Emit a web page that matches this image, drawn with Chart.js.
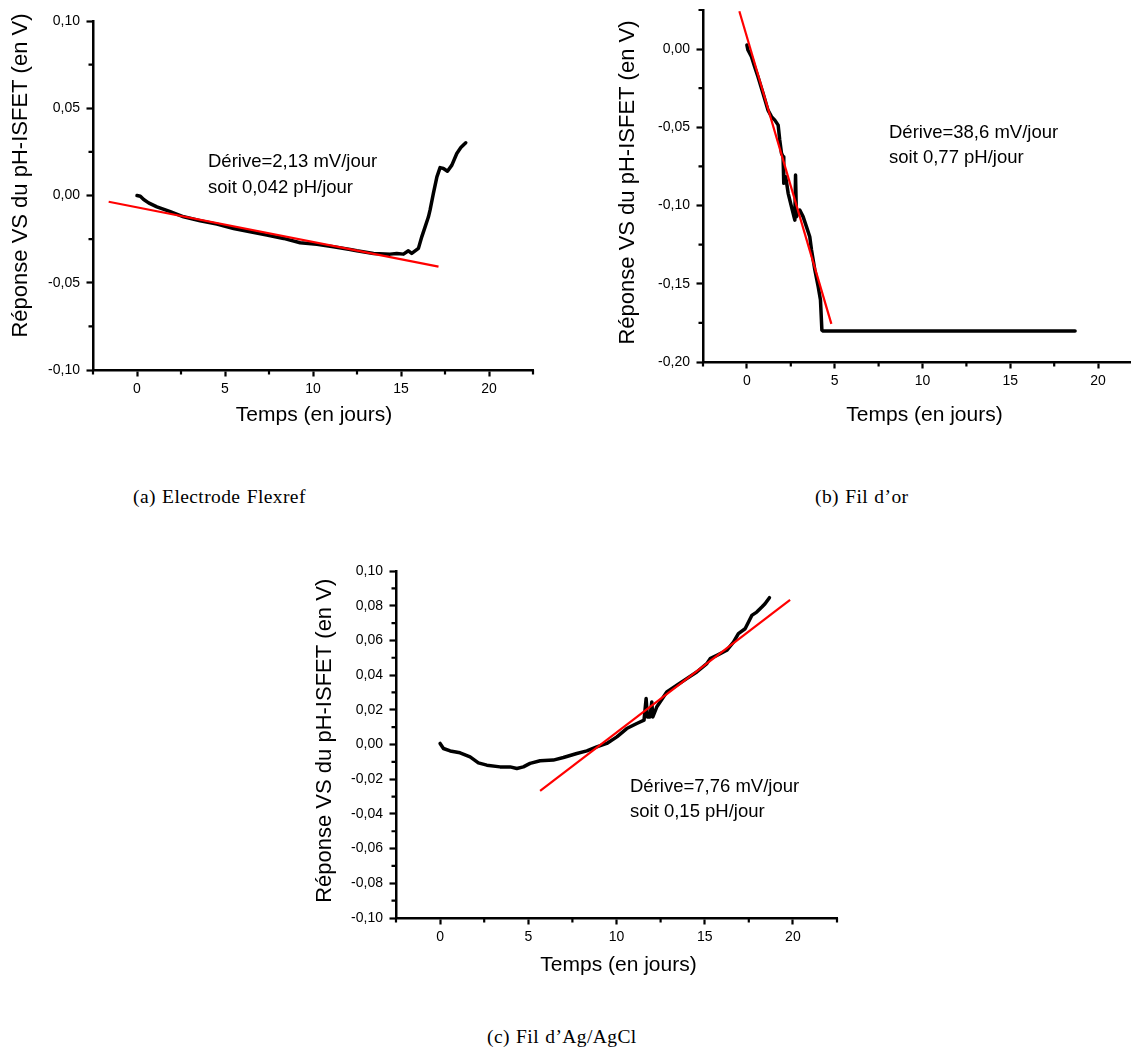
<!DOCTYPE html>
<html>
<head>
<meta charset="utf-8">
<script src="https://cdn.jsdelivr.net/npm/chart.js@4.4.1/dist/chart.umd.min.js"></script>
<style>
html,body{margin:0;padding:0;background:#fff;width:1131px;height:1057px;overflow:hidden;position:relative}
canvas{position:absolute}
.cap{position:absolute;font-family:"Liberation Serif","Times New Roman",serif;font-size:19.5px;line-height:1;white-space:nowrap;color:#000;letter-spacing:0.4px;word-spacing:1px}
</style>
</head>
<body>
<canvas id="chartA" width="545" height="440" style="left:0;top:0"></canvas>
<canvas id="chartB" width="600" height="440" style="left:560px;top:0"></canvas>
<canvas id="chartC" width="550" height="460" style="left:300px;top:540px"></canvas>
<div class="cap" style="left:133px;top:487px">(a) Electrode Flexref</div>
<div class="cap" style="left:815px;top:487px">(b) Fil d’or</div>
<div class="cap" style="left:487px;top:1027px">(c) Fil d’Ag/AgCl</div>
<script>
// ---------- shared axis values ----------
const xTicks = [0, 5, 10, 15, 20];
const xTickLabels = ['0', '5', '10', '15', '20'];
const xMinor = [-2.5, 2.5, 7.5, 12.5, 17.5, 22.5];

const xTitle = 'Temps (en jours)';
const yTitle = 'Réponse VS du pH-ISFET (en V)';

// ---------- (a) Electrode Flexref ----------
const daysA = [0, 0.19, 0.38, 0.66, 1.13, 1.89, 2.65, 3.59, 4.54, 5.49, 6.43, 7.38, 8.33, 9.27, 10.22, 11.16, 12.11, 12.49, 13.44, 14.38, 14.76, 15.14, 15.42, 15.61, 15.99, 16.18, 16.37, 16.56, 16.65, 16.84, 17.04, 17.22, 17.41, 17.64, 17.89, 18.17, 18.4, 18.68];
const responseA = [0, -0.0004, -0.0023, -0.0042, -0.0065, -0.0093, -0.0122, -0.0145, -0.0164, -0.0189, -0.0208, -0.0227, -0.0246, -0.0271, -0.028, -0.0294, -0.0309, -0.0317, -0.0332, -0.0336, -0.0332, -0.0336, -0.0317, -0.0332, -0.0303, -0.0237, -0.018, -0.0122, -0.0084, 0.0012, 0.0107, 0.016, 0.0155, 0.0139, 0.0174, 0.0241, 0.0275, 0.0302];
const fitDaysA = [-1.61, 17.13];
const fitA = [-0.0036, -0.0408];
const yTicksA = [-0.10, -0.05, 0.00, 0.05, 0.10];
const yTickLabelsA = ['-0,10', '-0,05', '0,00', '0,05', '0,10'];
const yMinorA = [-0.075, -0.025, 0.025, 0.075];
const notesA = ['Dérive=2,13 mV/jour', 'soit 0,042 pH/jour'];

// ---------- (b) Fil d'or ----------
const daysB = [0, 0.06, 0.26, 0.44, 0.63, 0.92, 1.2, 1.4, 1.59, 1.78, 1.87, 1.97, 2.06, 2.1, 2.21, 2.35, 2.54, 2.73, 2.77, 2.82, 3.01, 3.2, 3.39, 3.58, 3.68, 3.87, 4.06, 4.19, 4.27, 4.34, 18.69];
const responseB = [0.0026, -0.0006, -0.0049, -0.0113, -0.0177, -0.0283, -0.039, -0.0432, -0.0454, -0.0486, -0.0581, -0.0666, -0.0688, -0.0858, -0.0816, -0.0922, -0.1008, -0.1093, -0.0805, -0.1071, -0.1029, -0.1071, -0.1135, -0.1199, -0.1284, -0.1412, -0.1519, -0.1604, -0.1796, -0.1802, -0.1802];
const fitDaysB = [-0.43, 4.81];
const fitB = [0.0242, -0.1756];
const yTicksB = [-0.20, -0.15, -0.10, -0.05, 0.00];
const yTickLabelsB = ['-0,20', '-0,15', '-0,10', '-0,05', '0,00'];
const yMinorB = [-0.175, -0.125, -0.075, -0.025, 0.025];
const notesB = ['Dérive=38,6 mV/jour', 'soit 0,77 pH/jour'];

// ---------- (c) Fil d'Ag/AgCl ----------
const daysC = [0, 0.19, 0.57, 1.13, 1.7, 2.17, 2.65, 3.4, 3.97, 4.35, 4.72, 5.1, 5.67, 6.42, 6.99, 7.75, 8.32, 8.88, 9.45, 10.02, 10.58, 11.15, 11.56, 11.68, 11.75, 11.9, 12.0, 12.06, 12.28, 12.85, 13.42, 13.98, 14.55, 15.12, 15.31, 15.69, 16.25, 16.63, 16.91, 17.29, 17.67, 17.95, 18.24, 18.42, 18.67];
const responseC = [0.0006, -0.0023, -0.0037, -0.0048, -0.0071, -0.0106, -0.0119, -0.0129, -0.0129, -0.0138, -0.0129, -0.0109, -0.0094, -0.009, -0.0075, -0.0052, -0.0037, -0.0014, 0.0006, 0.0044, 0.0092, 0.0121, 0.014, 0.0265, 0.0159, 0.0159, 0.0245, 0.0159, 0.0216, 0.0303, 0.0341, 0.038, 0.0418, 0.0466, 0.0495, 0.0514, 0.0543, 0.059, 0.0639, 0.0667, 0.0744, 0.0763, 0.0792, 0.0811, 0.0846];
const fitDaysC = [5.67, 19.84];
const fitC = [-0.0267, 0.0834];
const yTicksC = [-0.10, -0.08, -0.06, -0.04, -0.02, 0.00, 0.02, 0.04, 0.06, 0.08, 0.10];
const yTickLabelsC = ['-0,10', '-0,08', '-0,06', '-0,04', '-0,02', '0,00', '0,02', '0,04', '0,06', '0,08', '0,10'];
const yMinorC = [-0.09, -0.07, -0.05, -0.03, -0.01, 0.01, 0.03, 0.05, 0.07, 0.09];
const notesC = ['Dérive=7,76 mV/jour', 'soit 0,15 pH/jour'];

Chart.defaults.font.family = '"Liberation Sans", Arial, sans-serif';
Chart.defaults.color = '#000';

const extras = {
  id: 'extras',
  afterDraw(chart, args, o) {
    const ctx = chart.ctx, xs = chart.scales.x, ys = chart.scales.y;
    ctx.save();
    ctx.strokeStyle = '#000';
    ctx.lineWidth = 2.2;
    ctx.beginPath();
    o.xMinor.forEach(v => { const p = xs.getPixelForValue(v); ctx.moveTo(p, xs.top); ctx.lineTo(p, xs.top + 4.5); });
    o.yMinor.forEach(v => { const p = ys.getPixelForValue(v); ctx.moveTo(ys.right, p); ctx.lineTo(ys.right - 4.5, p); });
    ctx.stroke();
    ctx.fillStyle = '#000';
    // x title
    ctx.font = '21px "Liberation Sans", Arial, sans-serif';
    ctx.textAlign = 'center';
    ctx.textBaseline = 'alphabetic';
    ctx.fillText(o.xTitle, o.xTitlePos[0], o.xTitlePos[1]);
    // y title
    ctx.save();
    ctx.translate(o.yTitlePos[0], o.yTitlePos[1]);
    ctx.rotate(-Math.PI / 2);
    ctx.font = '22px "Liberation Sans", Arial, sans-serif';
    ctx.textBaseline = 'middle';
    ctx.fillText(o.yTitle, 0, 0);
    ctx.restore();
    // annotation
    ctx.font = '18.5px "Liberation Sans", Arial, sans-serif';
    ctx.textAlign = 'left';
    ctx.textBaseline = 'alphabetic';
    o.notes.forEach((t, i) => ctx.fillText(t, o.notePos[0], o.notePos[1] + i * o.noteGap));
    ctx.restore();
  }
};

function makeChart(id, s) {
  const canvas = document.getElementById(id);
  const W = canvas.width, H = canvas.height, a = s.area;
  const pts = (xs, ys) => xs.map((x, i) => ({ x: x, y: ys[i] }));
  return new Chart(canvas, {
    type: 'line',
    data: {
      datasets: [
        { label: 'fit', data: pts(s.fitX, s.fitY), borderColor: '#ff0000', borderWidth: 2.2, pointRadius: 0, tension: 0 },
        { label: 'mesure', data: pts(s.x, s.y), borderColor: '#000', borderWidth: 3.5, pointRadius: 0, tension: 0, borderJoinStyle: 'round', borderCapStyle: 'round' }
      ]
    },
    options: {
      responsive: false,
      animation: false,
      events: [],
      layout: { padding: { left: 0, top: a.top, right: W - a.right, bottom: 0 } },
      plugins: {
        legend: { display: false },
        tooltip: { enabled: false },
        extras: s.extras
      },
      scales: {
        x: {
          type: 'linear', min: -2.5, max: 22.5,
          afterBuildTicks: sc => { sc.ticks = xTicks.map(v => ({ value: v })); },
          afterFit: sc => { sc.height = H - a.bottom; sc.paddingLeft = 0; sc.paddingRight = 0; },
          border: { display: true, color: '#000', width: 2.5 },
          grid: { display: true, drawOnChartArea: false, tickLength: 6.5, tickWidth: 2.2, tickColor: '#000' },
          ticks: { autoSkip: false, maxRotation: 0, padding: 4, color: '#000', font: { size: 14 }, callback: (v, i) => xTickLabels[i] }
        },
        y: {
          type: 'linear', min: s.yMin, max: s.yMax,
          afterBuildTicks: sc => { sc.ticks = s.yTicks.map(v => ({ value: v })); },
          afterFit: sc => { sc.width = a.left; sc.paddingTop = 0; sc.paddingBottom = 0; },
          border: { display: true, color: '#000', width: 2.5 },
          grid: { display: true, drawOnChartArea: false, tickLength: 6.5, tickWidth: 2.2, tickColor: '#000' },
          ticks: { autoSkip: false, padding: 6.5, color: '#000', font: { size: 14 }, callback: (v, i) => s.yLabels[i] }
        }
      }
    },
    plugins: [extras]
  });
}

makeChart('chartA', {
  area: { left: 93, top: 21, right: 533, bottom: 370 },
  x: daysA, y: responseA, fitX: fitDaysA, fitY: fitA,
  yMin: -0.10, yMax: 0.10, yTicks: yTicksA, yLabels: yTickLabelsA,
  extras: { xMinor: xMinor, yMinor: yMinorA, xTitle: xTitle, yTitle: yTitle,
    xTitlePos: [314, 421], yTitlePos: [20.5, 175.5], notes: notesA, notePos: [208, 167], noteGap: 26 }
});

makeChart('chartB', {
  area: { left: 143, top: 10, right: 582, bottom: 362 },
  x: daysB, y: responseB, fitX: fitDaysB, fitY: fitB,
  yMin: -0.20, yMax: 0.025, yTicks: yTicksB, yLabels: yTickLabelsB,
  extras: { xMinor: xMinor, yMinor: yMinorB, xTitle: xTitle, yTitle: yTitle,
    xTitlePos: [364.5, 421], yTitlePos: [68, 182.5], notes: notesB, notePos: [329, 138], noteGap: 25 }
});

makeChart('chartC', {
  area: { left: 96, top: 31, right: 537, bottom: 378 },
  x: daysC, y: responseC, fitX: fitDaysC, fitY: fitC,
  yMin: -0.10, yMax: 0.10, yTicks: yTicksC, yLabels: yTickLabelsC,
  extras: { xMinor: xMinor, yMinor: yMinorC, xTitle: xTitle, yTitle: yTitle,
    xTitlePos: [318.5, 430.7], yTitlePos: [25.4, 200.8], notes: notesC, notePos: [330, 252], noteGap: 25 }
});
</script>
</body>
</html>
